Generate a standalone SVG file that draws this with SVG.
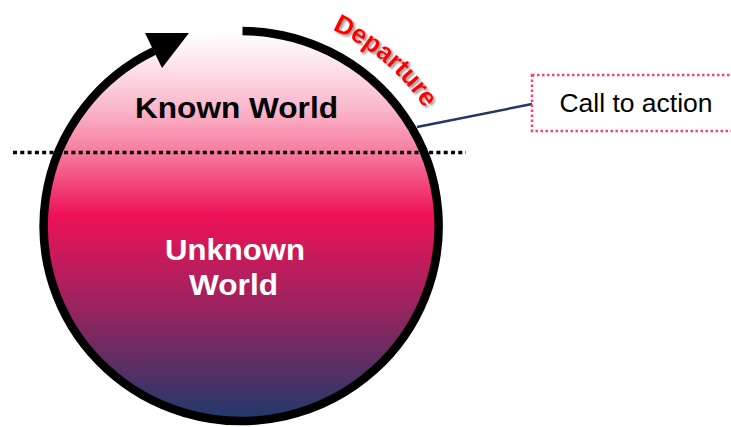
<svg xmlns="http://www.w3.org/2000/svg" width="731" height="427" viewBox="0 0 731 427">
  <defs>
    <linearGradient id="worldGrad" x1="0" y1="31" x2="0" y2="421" gradientUnits="userSpaceOnUse">
      <stop offset="0" stop-color="#ffffff"/>
      <stop offset="0.08" stop-color="#fde6ee"/>
      <stop offset="0.2" stop-color="#fab6ca"/>
      <stop offset="0.31" stop-color="#f67c9f"/>
      <stop offset="0.47" stop-color="#ee1256"/>
      <stop offset="0.69" stop-color="#a0225f"/>
      <stop offset="0.85" stop-color="#5e2e62"/>
      <stop offset="1" stop-color="#1e3a6c"/>
    </linearGradient>
    <filter id="shadow" x="-20%" y="-20%" width="140%" height="140%">
      <feDropShadow dx="2" dy="2" stdDeviation="1.2" flood-color="#777777" flood-opacity="0.7"/>
    </filter>
    <path id="depPath" d="M 332.3 29.6 A 217 217 0 0 1 446.4 151.8"/>
  </defs>
  <style>
    .big { font-family: "Liberation Sans", Arial, sans-serif; font-weight: bold; font-size: 30px; text-anchor: middle; }
    .label { font-family: "Liberation Sans", Arial, sans-serif; font-size: 26.5px; text-anchor: middle; fill: #000; }
    .dep { font-family: "Liberation Sans", Arial, sans-serif; font-weight: bold; font-size: 26px; fill: #ff0000; }
  </style>

  <g id="world">
    <ellipse cx="242.5" cy="226" rx="197.5" ry="195" fill="url(#worldGrad)"/>
    <path d="M 242.5 31 A 197.5 195 0 1 1 154 51" fill="none" stroke="#000" stroke-width="8.5"/>
    <polygon points="145,33 189,33 162,68" fill="#000"/>
  </g>

  <g id="threshold">
    <line x1="13" y1="152.5" x2="466" y2="152.5" stroke="#000" stroke-width="3.5" stroke-dasharray="4 3.3"/>
  </g>

  <g id="known-world">
    <text class="big" x="236.5" y="118" fill="#000" textLength="203" lengthAdjust="spacingAndGlyphs">Known World</text>
  </g>

  <g id="unknown-world">
    <text class="big" x="235" y="260" fill="#fff" textLength="140" lengthAdjust="spacingAndGlyphs">Unknown</text>
    <text class="big" x="233.5" y="295" fill="#fff" textLength="89" lengthAdjust="spacingAndGlyphs">World</text>
  </g>

  <g id="departure">
    <text class="dep" filter="url(#shadow)"><textPath href="#depPath">Departure</textPath></text>
  </g>

  <g id="connectors">
    <line x1="417" y1="127" x2="532" y2="104" stroke="#1f3864" stroke-width="2.5"/>
  </g>

  <g id="call-to-action">
    <rect x="532" y="75" width="205" height="56" fill="#fff" stroke="#ff3f6e" stroke-width="2.5" stroke-dasharray="2.5 2.5"/>
    <text class="label" x="636" y="111.5">Call to action</text>
  </g>
</svg>
